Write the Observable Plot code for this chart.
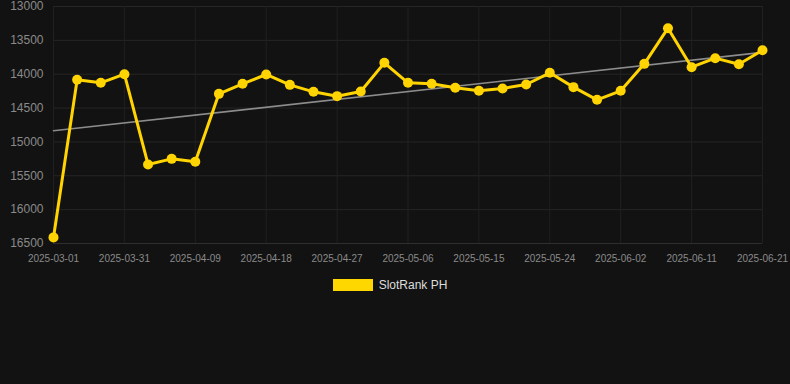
<!DOCTYPE html>
<html>
<head>
<meta charset="utf-8">
<script src="https://cdn.jsdelivr.net/npm/d3@7"></script>
<script src="https://cdn.jsdelivr.net/npm/@observablehq/plot@0.6"></script>
<style>
  html, body { margin: 0; padding: 0; background: #121212; }
  body { width: 790px; height: 384px; overflow: hidden; font-family: "Liberation Sans", Arial, sans-serif; }
  #legend { display: flex; justify-content: center; align-items: center; gap: 6px; margin-top: 8px; color: #dddddd; font-size: 12px; padding-right: 10px; }
  #legend .sw { width: 40px; height: 12px; background: #FFD700; }
</style>
</head>
<body>
<div id="chart"></div>
<div id="legend"><span class="sw"></span><span>SlotRank PH</span></div>
<script>
const dates = ["2025-03-01","2025-03-25","2025-03-28","2025-03-31","2025-04-03","2025-04-06","2025-04-09","2025-04-12","2025-04-15","2025-04-18","2025-04-21","2025-04-24","2025-04-27","2025-04-30","2025-05-03","2025-05-06","2025-05-09","2025-05-12","2025-05-15","2025-05-18","2025-05-21","2025-05-24","2025-05-27","2025-05-30","2025-06-02","2025-06-05","2025-06-08","2025-06-11","2025-06-14","2025-06-18","2025-06-21"];
const ranks = [16410,14083,14127,14000,15333,15250,15294,14290,14142,14004,14157,14260,14324,14255,13832,14127,14142,14201,14245,14211,14152,13979,14191,14378,14245,13847,13320,13896,13763,13852,13645];
const yTicks = [13000,13500,14000,14500,15000,15500,16000,16500];
const seriesName = "SlotRank PH";

const data = dates.map((d, i) => ({i, date: d, rank: ranks[i]}));
const xTicks = d3.range(0, dates.length, 3);

const chart = Plot.plot({
  width: 790,
  height: 270,
  marginLeft: 53,
  marginRight: 28,
  marginTop: 6,
  marginBottom: 27,
  style: {background: "#121212", color: "#888888", fontFamily: "'Liberation Sans', Arial, sans-serif"},
  x: {type: "linear", domain: [0, dates.length - 1], ticks: xTicks, tickFormat: i => dates[i], label: null},
  y: {domain: [16500, 13000], ticks: yTicks, tickFormat: d => String(d), label: null},
  marks: [
    Plot.gridY(yTicks, {stroke: "#262626", strokeOpacity: 1}),
    Plot.gridX(xTicks, {stroke: "#202020", strokeOpacity: 1}),
    Plot.ruleY([16500], {stroke: "#2e2e2e"}),
    Plot.axisY(yTicks, {tickSize: 0, tickPadding: 10, fontSize: 12, fill: "#8a8a8a", tickFormat: d => String(d)}),
    Plot.axisX(xTicks, {tickSize: 0, tickPadding: 11, fontSize: 10, fill: "#8a8a8a", tickFormat: i => dates[i]}),
    Plot.linearRegressionY(data, {x: "i", y: "rank", ci: 0, stroke: "#8c8c8c", strokeWidth: 1.6}),
    Plot.line(data, {x: "i", y: "rank", stroke: "#FFD400", strokeWidth: 3}),
    Plot.dot(data, {x: "i", y: "rank", r: 5, fill: "#FFD400", stroke: "none"})
  ]
});
document.getElementById("chart").appendChild(chart);
document.querySelector("#legend span:last-child").textContent = seriesName;
</script>
</body>
</html>
